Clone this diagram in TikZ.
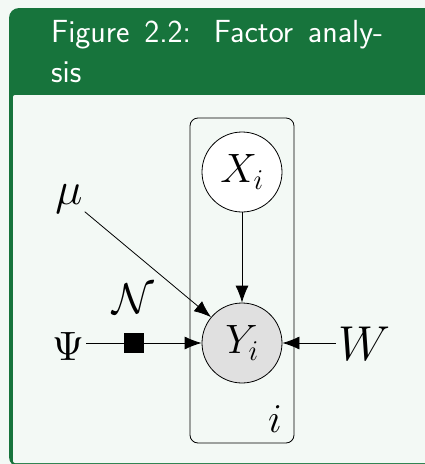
\documentclass[tikz,border=0pt]{standalone}
\usepackage{fix-cm}
\usetikzlibrary{arrows.meta}
\DeclareFontFamily{OT1}{opcmr}{}
\DeclareFontShape{OT1}{opcmr}{m}{n}{<-> cmr10}{}
\DeclareSymbolFont{operators}{OT1}{opcmr}{m}{n}
\definecolor{hdrgreen}{RGB}{23,116,60}
\definecolor{pagebg}{RGB}{243,249,245}
\definecolor{obsgray}{RGB}{224,224,224}
\newcommand{\fsz}[1]{\fontsize{#1}{#1}\selectfont}

\begin{document}
\begin{tikzpicture}[x=1pt, y=-1pt,
  every node/.style={font=\fsz{41}, inner sep=2pt},
  latent/.style={circle, draw, line width=0.8pt, minimum size=80pt, inner sep=0pt, fill=white},
  obs/.style={latent, fill=obsgray},
  factor/.style={rectangle, fill=black, minimum size=20pt, inner sep=0pt},
  param/.style={text height=40pt, text depth=6pt},
  plate/.style={draw, line width=0.8pt, rounded corners=8pt},
  title/.style={anchor=base west, inner sep=0pt, text=white, font=\sffamily\fsz{32}},
  edge/.style={line width=0.8pt, -{Latex[length=17pt,width=13pt]}}]

  \useasboundingbox (0,0) rectangle (425,464);
  \clip (0,0) rectangle (425,464);
  \fill[pagebg] (0,0) rectangle (425,464);

  % frame
  \fill[hdrgreen, rounded corners=10pt] (9,467) rectangle (445,8);
  \fill[pagebg, rounded corners=2pt] (13,95) rectangle (441,463);
  \node[title] (title1) at (51,42) {\makebox[332pt][s]{Figure 2.2: Factor analy-}};
  \node[title] (title2) at (51,82) {sis};

  % plate
  \draw[plate] (190,118) rectangle (294,443);

  % nodes
  \node[latent] (X) at (242,172) {$X_i$};
  \node[obs] (Y) at (242,343) {$Y_i$};
  \node[anchor=base, font=\fsz{46}] (mu) at (69,204) {$\mu$};
  \node[param] (Psi) at (68,343) {$\Psi$};
  \node[factor] (fPsi) at (134,343) {};
  \node[anchor=base, font=\fsz{43}] (N) at (133,313) {$\mathcal{N}$};
  \node[param, font=\fsz{49}] (W) at (364,343) {$W$};
  \node[anchor=base] (i) at (275,432) {$i$};

  % edges
  \draw[edge] (X) -- (Y);
  \draw[edge] (mu) -- (Y);
  \draw[line width=0.8pt] (Psi) -- (fPsi);
  \draw[edge] (fPsi) -- (Y);
  \draw[edge] (W) -- (Y);

\end{tikzpicture}
\end{document}
